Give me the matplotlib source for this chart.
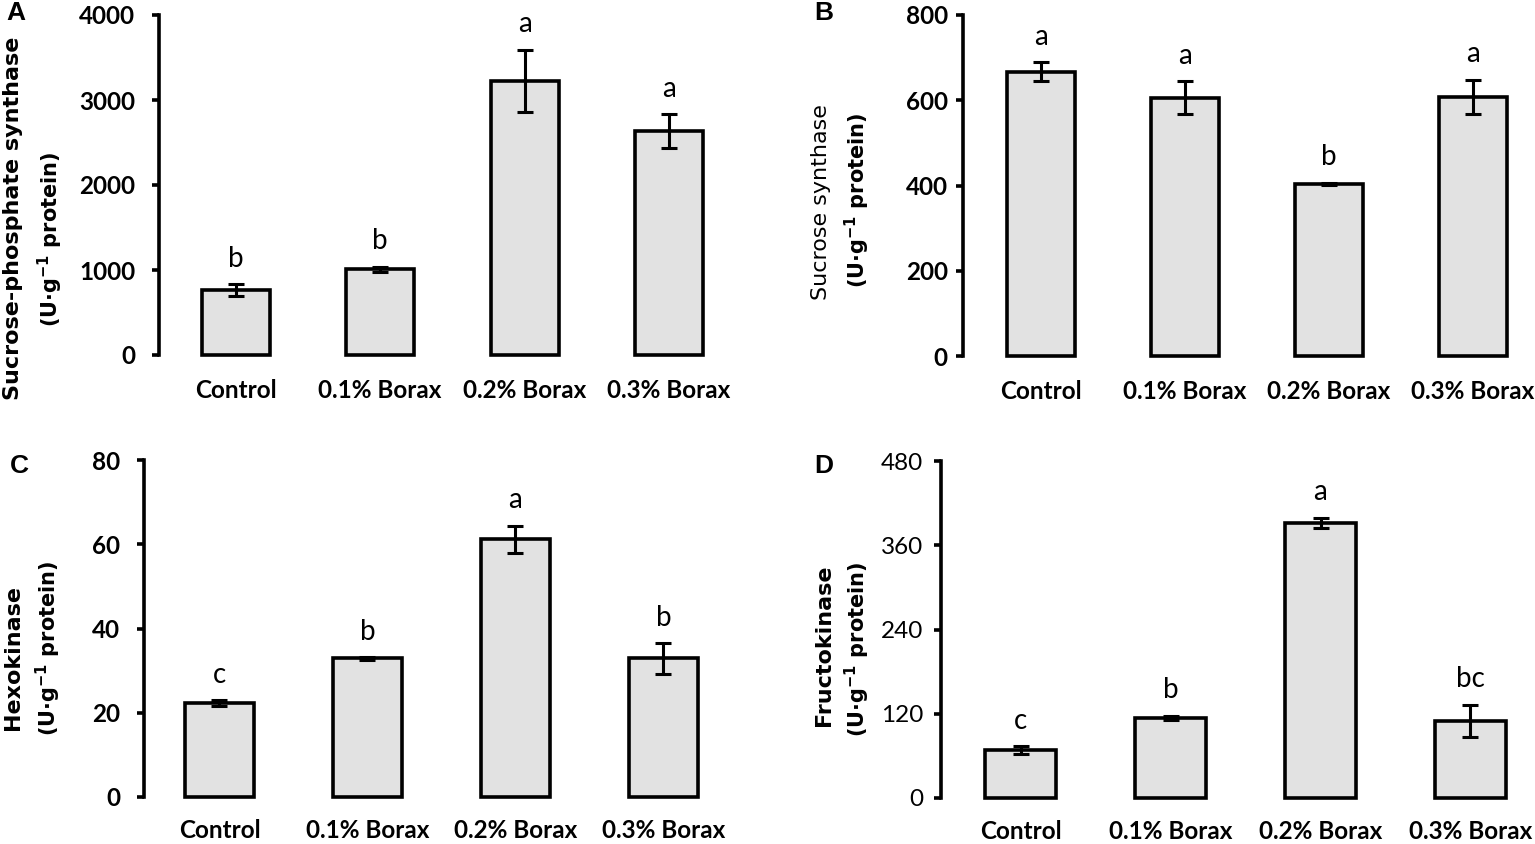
import matplotlib
matplotlib.use("Agg")
import matplotlib.pyplot as plt
import numpy as np

treatments = ["Control", "0.1% Borax", "0.2% Borax", "0.3% Borax"]

# A - sucrose-phosphate synthase
sps_mean = [765, 1010, 3225, 2635]
sps_err = [70, 28, 365, 200]
sps_sig = ["b", "b", "a", "a"]

# B - sucrose synthase
ss_mean = [667, 606, 404, 608]
ss_err = [22, 39, 2, 40]
ss_sig = ["a", "a", "b", "a"]

# C - hexokinase
hk_mean = [22.3, 32.9, 61.2, 32.9]
hk_err = [0.7, 0.3, 3.2, 3.6]
hk_sig = ["c", "b", "a", "b"]

# D - fructokinase
fk_mean = [68, 114, 392, 110]
fk_err = [6, 3, 7, 23]
fk_sig = ["c", "b", "a", "bc"]

W, H = 1535, 844
fig = plt.figure(figsize=(W / 100, H / 100), dpi=100)


def px_axes(left, top, right, bottom):
    return fig.add_axes([left / W, 1 - bottom / H, (right - left) / W, (bottom - top) / H])


def panel(ax, means, errs, sig, ymax, yticks, xlim, ypad, xpad, tick_weight="bold"):
    x = np.arange(len(treatments))
    ax.bar(x, means, width=0.47, color="#e2e2e2", edgecolor="black",
           linewidth=2.6, zorder=2, clip_on=False)
    ax.errorbar(x, means, yerr=errs, fmt="none", ecolor="black",
                elinewidth=2.2, capsize=6, capthick=2.2, zorder=3, clip_on=False)
    for xi, m, e, s in zip(x, means, errs, sig):
        ax.annotate(s, (xi, m + e), xytext=(0, 9), textcoords="offset points",
                    ha="center", va="bottom", fontsize=20, family="Lato")
    ax.set_xlim(*xlim)
    ax.set_ylim(0, ymax)
    ax.set_yticks(yticks)
    ax.set_xticks(x)
    ax.set_xticklabels(treatments, fontsize=17.5, fontweight="bold", family="Lato")
    for lab in ax.get_yticklabels():
        lab.set_family("Lato")
        lab.set_fontsize(17.5)
        lab.set_fontweight(tick_weight)
    for side in ["top", "right", "bottom"]:
        ax.spines[side].set_visible(False)
    ax.spines["left"].set_linewidth(2.6)
    ax.tick_params(axis="y", direction="out", length=5, width=2.6, pad=ypad)
    ax.tick_params(axis="x", length=0, pad=xpad)
    ax.set_facecolor("none")


axA = px_axes(159, 15, 159 + 4.06 * 144.5, 355)
panel(axA, sps_mean, sps_err, sps_sig, 4000, [0, 1000, 2000, 3000, 4000], (-0.53, 3.53), 12, 17)

axB = px_axes(963, 15, 963 + 4.04 * 144, 356)
panel(axB, ss_mean, ss_err, ss_sig, 800, [0, 200, 400, 600, 800], (-0.54, 3.5), 6, 17)

axC = px_axes(144, 460, 144 + 4.01 * 148, 797)
panel(axC, hk_mean, hk_err, hk_sig, 80, [0, 20, 40, 60, 80], (-0.51, 3.5), 12, 16)

axD = px_axes(941, 461, 941 + 4.03 * 150, 798)
panel(axD, fk_mean, fk_err, fk_sig, 480, [0, 120, 240, 360, 480], (-0.53, 3.5), 8, 16,
      tick_weight="normal")

# y-axis titles (two lines each)
unit = r"(U·g$^{\mathbf{-1}}$ protein)"
labels = [
    (13, 218, "Sucrose-phosphate synthase", "bold", 50, 239),
    (821, 202, "Sucrose synthase", "normal", 857, 200),
    (13, 658, "Hexokinase", "bold", 48, 648),
    (824, 645, "Fructokinase", "bold", 857, 649),
]
for x1, y1, t1, w1, x2, y2 in labels:
    fig.text(x1 / W, 1 - y1 / H, t1, rotation=90, ha="center", va="center",
             fontsize=16, fontweight=w1, family="DejaVu Sans")
    fig.text(x2 / W, 1 - y2 / H, unit, rotation=90, ha="center", va="center",
             fontsize=15, fontweight="bold", family="DejaVu Sans")

for px, py, letter in [(6, 1, "A"), (814, 1, "B"), (10, 454, "C"), (814, 454, "D")]:
    fig.text(px / W, 1 - py / H, letter, ha="left", va="top",
             fontsize=19, fontweight="bold", family="Liberation Sans")

fig.savefig("out.png", dpi=100)
